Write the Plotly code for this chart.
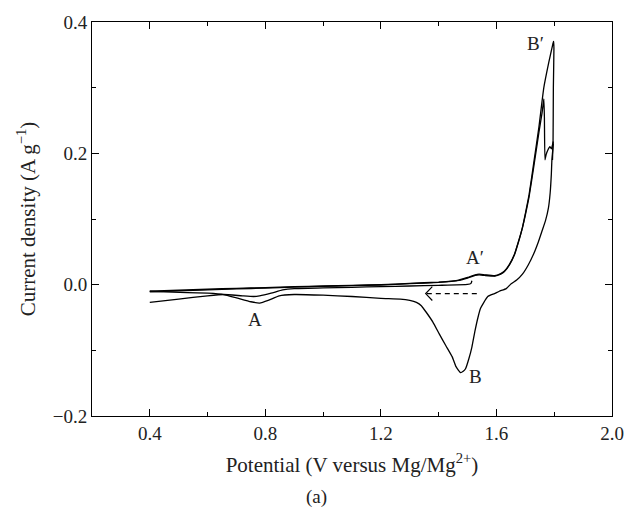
import plotly.graph_objects as go

# ---- data ----
# first cathodic sweep (starts at ~1.51 V)
cat1_x = [1.515, 1.512, 1.50, 1.40, 1.30, 1.20, 1.10, 1.00, 0.90, 0.86, 0.82, 0.78, 0.76, 0.72, 0.656, 0.60, 0.50, 0.40]
cat1_y = [0.006, 0.002, 0.0005, -0.001, -0.002, -0.003, -0.004, -0.005, -0.006, -0.008, -0.013, -0.017, -0.018, -0.017, -0.015, -0.017, -0.022, -0.027]

# first anodic sweep (peak ~0.28 A/g)
an1_x = [0.40, 0.50, 0.60, 0.70, 0.80, 0.90, 1.00, 1.10, 1.20, 1.30, 1.40, 1.47, 1.50, 1.526, 1.54, 1.56, 1.594, 1.615, 1.628, 1.645, 1.662, 1.675, 1.69, 1.70, 1.713, 1.73, 1.747, 1.758, 1.764, 1.766, 1.768, 1.772, 1.778, 1.785, 1.79, 1.797]
an1_y = [-0.010, -0.0085, -0.007, -0.0055, -0.0045, -0.003, -0.002, -0.001, 0.000, 0.002, 0.004, 0.007, 0.011, 0.015, 0.016, 0.015, 0.0136, 0.017, 0.021, 0.031, 0.046, 0.064, 0.087, 0.106, 0.134, 0.182, 0.232, 0.262, 0.283, 0.255, 0.190, 0.198, 0.205, 0.210, 0.207, 0.218]

# second cathodic sweep (peak B)
cat2_x = [1.797, 1.792, 1.790, 1.786, 1.780, 1.770, 1.758, 1.745, 1.729, 1.710, 1.690, 1.670, 1.651, 1.634, 1.610, 1.593, 1.570, 1.555, 1.545, 1.536, 1.525, 1.515, 1.505, 1.493, 1.485, 1.476, 1.468, 1.459, 1.447, 1.425, 1.402, 1.380, 1.357, 1.340, 1.323, 1.300, 1.267, 1.20, 1.10, 1.00, 0.90, 0.848, 0.81, 0.78, 0.75, 0.70, 0.656, 0.60, 0.53, 0.40]
cat2_y = [0.215, 0.190, 0.168, 0.140, 0.117, 0.098, 0.082, 0.065, 0.047, 0.030, 0.016, 0.007, 0.0015, -0.006, -0.010, -0.0136, -0.018, -0.028, -0.036, -0.050, -0.072, -0.095, -0.112, -0.128, -0.132, -0.134, -0.130, -0.124, -0.110, -0.093, -0.075, -0.057, -0.042, -0.032, -0.027, -0.024, -0.022, -0.021, -0.018, -0.016, -0.015, -0.017, -0.024, -0.028, -0.026, -0.020, -0.015, -0.013, -0.012, -0.010]

# second anodic sweep (peak B')
an2_x = [0.40, 0.50, 0.60, 0.70, 0.80, 0.90, 1.00, 1.10, 1.20, 1.30, 1.40, 1.47, 1.50, 1.526, 1.54, 1.56, 1.594, 1.615, 1.628, 1.645, 1.662, 1.675, 1.69, 1.70, 1.713, 1.73, 1.747, 1.764, 1.781, 1.795, 1.798, 1.799, 1.797, 1.796, 1.794]
an2_y = [-0.011, -0.0095, -0.008, -0.0065, -0.0052, -0.0038, -0.0026, -0.0015, -0.0005, 0.0015, 0.0035, 0.0065, 0.010, 0.014, 0.015, 0.014, 0.013, 0.016, 0.020, 0.030, 0.045, 0.063, 0.087, 0.108, 0.137, 0.188, 0.240, 0.300, 0.338, 0.366, 0.371, 0.360, 0.300, 0.220, 0.190]

# peak labels
label_text = ["A", "A\u2032", "B", "B\u2032"]
label_x = [0.764, 1.526, 1.526, 1.736]
label_y = [-0.0535, 0.041, -0.140, 0.367]

# scan direction arrow (dashed)
arrow_x = [1.532, 1.355]
arrow_y = [-0.0136, -0.0136]

x_ticks = [0.4, 0.8, 1.2, 1.6, 2.0]
y_ticks = [-0.2, 0.0, 0.2, 0.4]

FONT = "Liberation Serif"
TXT = "#222"

fig = go.Figure()
line_style = dict(color="black", width=1.3)
for xs, ys in [(cat1_x, cat1_y), (an1_x, an1_y), (cat2_x, cat2_y), (an2_x, an2_y)]:
    fig.add_trace(go.Scatter(x=xs, y=ys, mode="lines", line=line_style,
                             line_shape="spline", line_smoothing=0.4,
                             showlegend=False, hoverinfo="skip"))

# dashed arrow line
fig.add_trace(go.Scatter(x=arrow_x, y=arrow_y, mode="lines",
                         line=dict(color="black", width=1.2, dash="5px,4px"),
                         showlegend=False, hoverinfo="skip"))
# open arrowhead (chevron)
tip_x, tip_y = arrow_x[1], arrow_y[1]
dx, dy = 0.023, 0.0105
fig.add_shape(type="path", xref="x", yref="y",
              path=f"M {tip_x+dx} {tip_y+dy} L {tip_x} {tip_y} L {tip_x+dx} {tip_y-dy}",
              line=dict(color="black", width=1.2))

for t, x, y in zip(label_text, label_x, label_y):
    fig.add_annotation(x=x, y=y, text=t, showarrow=False,
                       font=dict(family=FONT, size=19, color=TXT))

fig.add_annotation(xref="paper", yref="paper", x=0.431, y=-0.205, text="(a)",
                   showarrow=False, font=dict(family=FONT, size=19, color=TXT),
                   yanchor="middle")

axis_common = dict(showline=True, linecolor="black", linewidth=1, mirror="ticks",
                   ticks="inside", ticklen=7, tickwidth=1, tickcolor="black",
                   showgrid=False, zeroline=False,
                   tickfont=dict(family=FONT, size=19, color=TXT))

fig.update_xaxes(range=[0.2, 2.0], tickvals=x_ticks, tickformat=".1f",
                 minor=dict(dtick=0.2, tick0=0.2, ticks="inside", ticklen=4, tickcolor="black"),
                 title=dict(text="Potential (V versus Mg/Mg<sup>2+</sup>)",
                            font=dict(family=FONT, size=21, color=TXT), standoff=14),
                 **axis_common)
fig.update_yaxes(range=[-0.2, 0.4], tickvals=y_ticks, tickformat=".1f",
                 minor=dict(dtick=0.1, tick0=0.0, ticks="inside", ticklen=4, tickcolor="black"),
                 title=dict(text="Current density (A g<sup>\u22121</sup>)",
                            font=dict(family=FONT, size=21, color=TXT), standoff=11),
                 **axis_common)

fig.update_layout(width=636, height=514, margin=dict(l=92, r=13, t=20, b=98),
                  plot_bgcolor="white", paper_bgcolor="white")

fig.write_html("out.html")
